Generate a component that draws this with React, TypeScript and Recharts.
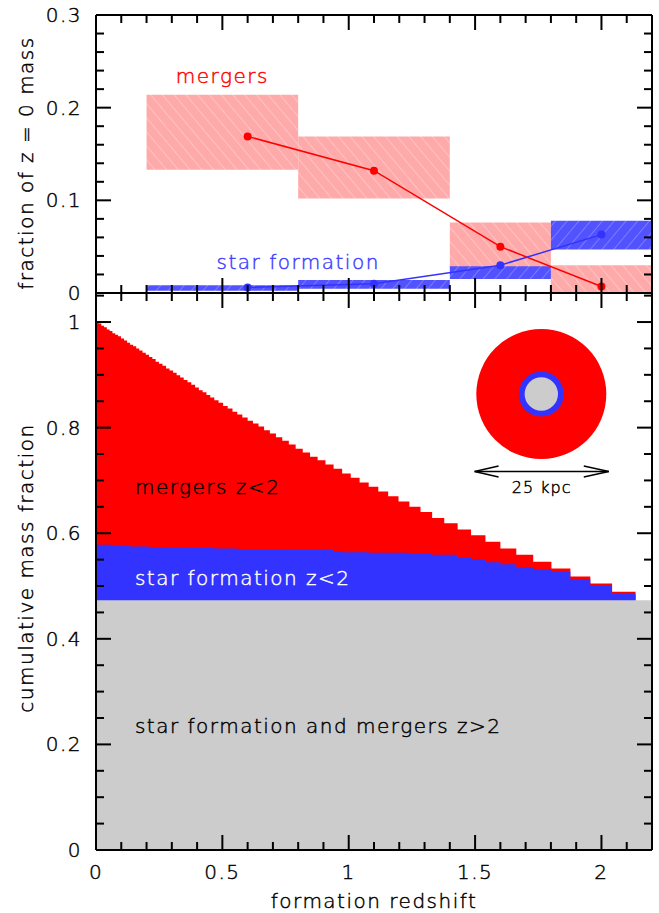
import React from 'react'
import {
  ComposedChart, Line, Area, XAxis, YAxis,
  ReferenceArea, ReferenceDot, ReferenceLine,
} from 'recharts'

// top panel: mass added per redshift bin, as fraction of the z=0 mass
const binLo = [0.2, 0.8, 1.4, 1.8]
const binHi = [0.8, 1.4, 1.8, 2.2]
const mergerBinLo = [0.133, 0.102, 0.028, 0]
const mergerBinHi = [0.214, 0.169, 0.076, 0.030]
const sfBinLo = [0.0025, 0.0047, 0.015, 0.047]
const sfBinHi = [0.0083, 0.014, 0.029, 0.078]
const pointZ = [0.6, 1.1, 1.6, 2.0]
const mergerFrac = [0.169, 0.132, 0.050, 0.007]
const sfFrac = [0.006, 0.010, 0.030, 0.063]

// bottom panel: cumulative mass fraction, stepped in redshift
const stepZ = [
  0, 0.010, 0.021, 0.032, 0.043, 0.054, 0.065, 0.076, 0.087, 0.099,
  0.111, 0.123, 0.135, 0.147, 0.159, 0.171, 0.184, 0.197, 0.210, 0.223,
  0.236, 0.249, 0.263, 0.277, 0.291, 0.305, 0.319, 0.333, 0.347, 0.362,
  0.377, 0.392, 0.407, 0.422, 0.437,
  0.452, 0.468, 0.485, 0.503, 0.521, 0.540, 0.559, 0.579, 0.600, 0.621,
  0.643, 0.665, 0.688, 0.712, 0.737, 0.763, 0.790, 0.818, 0.847, 0.877,
  0.908, 0.940, 0.974, 1.008, 1.043, 1.079, 1.117, 1.156, 1.197, 1.240,
  1.284, 1.330, 1.378, 1.431, 1.484, 1.541, 1.600, 1.663, 1.730, 1.802,
  1.877, 1.956, 2.042, 2.135,
]
const mergerCum = [
  1.000, 0.997, 0.993, 0.990, 0.986, 0.983, 0.979, 0.976, 0.973, 0.969,
  0.965, 0.961, 0.957, 0.954, 0.950, 0.946, 0.942, 0.938, 0.934, 0.930,
  0.925, 0.921, 0.917, 0.912, 0.908, 0.904, 0.899, 0.895, 0.890, 0.886,
  0.881, 0.876, 0.871, 0.867, 0.862,
  0.857, 0.852, 0.847, 0.841, 0.836, 0.830, 0.825, 0.819, 0.813, 0.808,
  0.802, 0.795, 0.789, 0.782, 0.775, 0.768, 0.760, 0.753, 0.745, 0.738,
  0.730, 0.722, 0.713, 0.705, 0.696, 0.688, 0.679, 0.670, 0.660, 0.650,
  0.640, 0.629, 0.619, 0.607, 0.596, 0.584, 0.571, 0.559, 0.546, 0.533,
  0.518, 0.505, 0.489, 0.489,
]
const sfCum = [
  0.578, 0.578, 0.578, 0.578, 0.578, 0.578, 0.577, 0.576, 0.576, 0.576,
  0.576, 0.576, 0.575, 0.575, 0.575, 0.575, 0.575, 0.575, 0.574, 0.574,
  0.574, 0.574, 0.574, 0.573, 0.573, 0.573, 0.573, 0.573, 0.573, 0.573,
  0.572, 0.572, 0.572, 0.572, 0.572,
  0.572, 0.571, 0.571, 0.571, 0.571, 0.571, 0.570, 0.570, 0.570, 0.570,
  0.570, 0.570, 0.570, 0.570, 0.569, 0.569, 0.569, 0.568, 0.568, 0.568,
  0.568, 0.566, 0.564, 0.564, 0.564, 0.563, 0.563, 0.563, 0.563, 0.561,
  0.561, 0.559, 0.559, 0.554, 0.551, 0.545, 0.541, 0.536, 0.532, 0.527,
  0.513, 0.501, 0.485, 0.485,
]
const oldFrac = 0.473 // formed before z = 2

const xTicks = [0, 0.1, 0.2, 0.3, 0.4, 0.5, 0.6, 0.7, 0.8, 0.9, 1, 1.1, 1.2, 1.3, 1.4, 1.5, 1.6, 1.7, 1.8, 1.9, 2, 2.1, 2.2]
const xMajor = [0, 0.5, 1, 1.5, 2]
const yTopTicks = [0, 0.02, 0.04, 0.06, 0.08, 0.1, 0.12, 0.14, 0.16, 0.18, 0.2, 0.22, 0.24, 0.26, 0.28, 0.3]
const yTopMajor = [0, 0.1, 0.2, 0.3]
const yBotTicks = [0, 0.05, 0.1, 0.15, 0.2, 0.25, 0.3, 0.35, 0.4, 0.45, 0.5, 0.55, 0.6, 0.65, 0.7, 0.75, 0.8, 0.85, 0.9, 0.95, 1, 1.05]
const yBotMajor = [0, 0.2, 0.4, 0.6, 0.8, 1]

const topData = pointZ.map((z, i) => ({ z, mergers: mergerFrac[i], sf: sfFrac[i] }))
const cumData: any[] = stepZ.map((z, i) => ({ z, mergers: mergerCum[i], sf: sfCum[i], old: oldFrac }))
cumData.push({ z: 2.2, mergers: null, sf: null, old: oldFrac })

const FONT = "'DejaVu Sans', sans-serif"
const RED = '#ff0000'
const BLUE = '#3333ff'
const GREY = '#cccccc'
const textStyle: React.CSSProperties = { fontFamily: FONT, fontSize: 20, fontWeight: 300, letterSpacing: '1.5px' }
const frame = { stroke: '#000', strokeWidth: 2 }

type Side = 'left' | 'right' | 'top' | 'bottom'
const isMajor = (list: number[], v: number) => list.some((m) => Math.abs(m - v) < 1e-6)
const fmt = (v: number) => String(Number(v.toFixed(3)))

// svg text with a hairline stroke so the light face reads like the plotter font
const Txt = (p: { x: number; y: number; anchor: 'start' | 'middle' | 'end'; color: string; size?: number; children: React.ReactNode }) => (
  <text x={p.x} y={p.y} textAnchor={p.anchor} dominantBaseline="central" fill={p.color} stroke={p.color} strokeWidth={0.45}
    style={{ ...textStyle, fontSize: p.size ?? 20, letterSpacing: p.size ? '1px' : '1.5px' }}>{p.children}</text>
)

// ticks drawn inward from the frame, labels only on the major ones
function frameTick(side: Side, majors: number[], withLabel: boolean) {
  return (p: any) => {
    const { x, y, payload } = p
    const v = payload.value as number
    const major = isMajor(majors, v)
    const len = major ? 15 : 8
    let x2 = x
    let y2 = y
    if (side === 'bottom') y2 = y - len
    if (side === 'top') y2 = y + len
    if (side === 'left') x2 = x + len
    if (side === 'right') x2 = x - len
    let label = null
    if (withLabel && major) {
      label = side === 'bottom'
        ? <Txt x={x} y={y + 22} anchor="middle" color="#000">{fmt(v)}</Txt>
        : <Txt x={x - 14} y={y} anchor="end" color="#000">{fmt(v)}</Txt>
    }
    return (
      <g>
        <line x1={x} y1={y} x2={x2} y2={y2} stroke="#000" strokeWidth={2} />
        {label}
      </g>
    )
  }
}

const note = (text: string, color: string, anchor: 'start' | 'middle') => (p: any) => (
  <Txt x={p.cx} y={p.cy} anchor={anchor} color={color}>{text}</Txt>
)

const ScaleBar = (p: any) => {
  const { x1, y1, x2, y2 } = p
  return (
    <g>
      <line x1={x1} y1={y1} x2={x2} y2={y2} stroke="#000" strokeWidth={1.5} />
      <polyline points={`${x1 + 24},${y1 - 5.5} ${x1},${y1} ${x1 + 24},${y1 + 5.5}`} fill="none" stroke="#000" strokeWidth={1.5} />
      <polyline points={`${x2 - 25},${y2 - 5.5} ${x2},${y2} ${x2 - 25},${y2 + 5.5}`} fill="none" stroke="#000" strokeWidth={1.5} />
      <Txt x={(x1 + x2) / 2} y={y1 + 16} anchor="middle" color="#000" size={16}>25 kpc</Txt>
    </g>
  )
}

function frameAxes(yDomain: number[], yTicks: number[], yMajor: number[], bottomHeight: number) {
  return [
    <XAxis key="xb" dataKey="z" type="number" domain={[0, 2.2]} ticks={xTicks} interval={0} allowDataOverflow
      orientation="bottom" height={bottomHeight} tickSize={0} tickMargin={0} tickLine={false} axisLine={frame}
      tick={frameTick('bottom', xMajor, bottomHeight > 1)} />,
    <XAxis key="xt" xAxisId="top" dataKey="z" type="number" domain={[0, 2.2]} ticks={xTicks} interval={0} allowDataOverflow
      orientation="top" height={1} tickSize={0} tickMargin={0} tickLine={false} axisLine={frame}
      tick={frameTick('top', xMajor, false)} />,
    <YAxis key="yl" type="number" domain={yDomain} ticks={yTicks} interval={0} allowDataOverflow
      width={96} tickSize={0} tickMargin={0} tickLine={false} axisLine={frame}
      tick={frameTick('left', yMajor, true)} />,
    <YAxis key="yr" yAxisId="right" orientation="right" type="number" domain={yDomain} ticks={yTicks} interval={0} allowDataOverflow
      width={1} tickSize={0} tickMargin={0} tickLine={false} axisLine={frame}
      tick={frameTick('right', yMajor, false)} />,
  ]
}

function TopPanel() {
  return (
    <ComposedChart width={659} height={305} data={topData} margin={{ top: 14, right: 6, bottom: 11, left: 0 }}>
      <defs>
        <pattern id="hatchMergers" patternUnits="userSpaceOnUse" width={9} height={9} patternTransform="rotate(-40)">
          <rect width={9} height={9} fill="#ffaaaa" />
          <line x1={0} y1={0} x2={0} y2={9} stroke="#ffcaca" strokeWidth={1.5} />
        </pattern>
        <pattern id="hatchSf" patternUnits="userSpaceOnUse" width={9} height={9} patternTransform="rotate(40)">
          <rect width={9} height={9} fill="#5252ff" />
          <line x1={0} y1={0} x2={0} y2={9} stroke="#8a8aff" strokeWidth={1.5} />
        </pattern>
      </defs>
      {binLo.map((lo, i) => (
        <ReferenceArea key={`m${i}`} x1={lo} x2={binHi[i]} y1={mergerBinLo[i]} y2={mergerBinHi[i]}
          fill="url(#hatchMergers)" fillOpacity={1} stroke="none" />
      ))}
      {binLo.map((lo, i) => (
        <ReferenceArea key={`s${i}`} x1={lo} x2={binHi[i]} y1={sfBinLo[i]} y2={sfBinHi[i]}
          fill="url(#hatchSf)" fillOpacity={1} stroke="none" />
      ))}
      <Line type="linear" dataKey="mergers" stroke={RED} strokeWidth={1.5}
        dot={{ r: 4, fill: RED, stroke: RED, strokeWidth: 0 }} isAnimationActive={false} />
      <Line type="linear" dataKey="sf" stroke={BLUE} strokeWidth={1.5}
        dot={{ r: 4, fill: BLUE, stroke: BLUE, strokeWidth: 0 }} isAnimationActive={false} />
      <ReferenceDot x={0.5} y={0.234} r={1} shape={note('mergers', RED, 'middle')} />
      <ReferenceDot x={0.8} y={0.033} r={1} shape={note('star formation', '#4040ff', 'middle')} />
      {frameAxes([0, 0.3], yTopTicks, yTopMajor, 1)}
    </ComposedChart>
  )
}

function BottomPanel() {
  return (
    <ComposedChart width={659} height={633} data={cumData} margin={{ top: 12, right: 6, bottom: 0, left: 0 }}>
      <Area type="stepAfter" dataKey="mergers" stroke="none" fill={RED} fillOpacity={1} isAnimationActive={false} />
      <Area type="stepAfter" dataKey="sf" stroke="none" fill={BLUE} fillOpacity={1} isAnimationActive={false} />
      <Area type="stepAfter" dataKey="old" stroke="none" fill={GREY} fillOpacity={1} isAnimationActive={false} />
      <ReferenceDot x={0.154} y={0.687} r={1} shape={note('mergers z<2', '#000', 'start')} />
      <ReferenceDot x={0.154} y={0.515} r={1} shape={note('star formation z<2', '#fff', 'start')} />
      <ReferenceDot x={0.154} y={0.235} r={1} shape={note('star formation and mergers z>2', '#000', 'start')} />
      <ReferenceDot x={1.762} y={0.8636} r={65} fill={RED} stroke="none" />
      <ReferenceDot x={1.762} y={0.8636} r={22.5} fill={BLUE} stroke="none" />
      <ReferenceDot x={1.762} y={0.8636} r={16.7} fill={GREY} stroke="none" />
      <ReferenceLine segment={[{ x: 1.498, y: 0.717 }, { x: 2.029, y: 0.717 }]} shape={ScaleBar} />
      {frameAxes([0, 1.055], yBotTicks, yBotMajor, 63)}
    </ComposedChart>
  )
}

const htmlText: React.CSSProperties = { ...textStyle, color: '#000', WebkitTextStroke: '0.45px #000' }

const rotTitle = (cx: number, cy: number): React.CSSProperties => ({
  position: 'absolute', left: cx - 200, top: cy - 12, width: 400, height: 24, lineHeight: '24px',
  textAlign: 'center', transform: 'rotate(-90deg)', whiteSpace: 'nowrap', ...htmlText,
})

export default function App() {
  return (
    <div style={{ position: 'absolute', left: 0, top: 0, width: 659, height: 913, background: '#fff' }}>
      <div style={{ position: 'absolute', left: 0, top: 0 }}><TopPanel /></div>
      <div style={{ position: 'absolute', left: 0, top: 280 }}><BottomPanel /></div>
      <div style={rotTitle(26, 163)}>fraction of z = 0 mass</div>
      <div style={rotTitle(26, 568)}>cumulative mass fraction</div>
      <div style={{ position: 'absolute', left: 96, top: 891, width: 556, lineHeight: '20px', textAlign: 'center', ...htmlText }}>
        formation redshift
      </div>
    </div>
  )
}
